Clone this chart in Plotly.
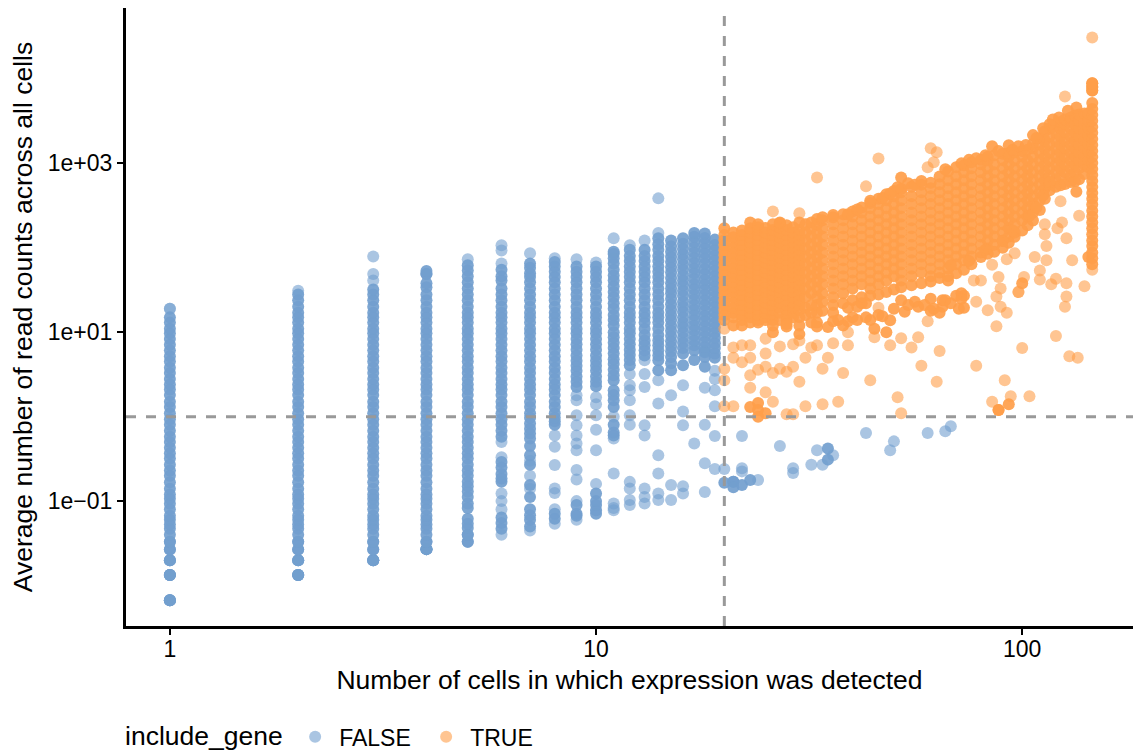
import math
import plotly.graph_objects as go

FONT = "Liberation Sans"
BLUE = "#729ECE"
ORANGE = "#FF9E4A"

# number of cells in which expression was detected (FALSE series), one list of read counts per count
false_cells = list(range(1, 20))
false_reads = [
 [.0067,.0067,.0067,.0067,.0133,.0133,.0133,.0133,.02,.02,.02,.0267,.0267,.033,.033,.04,.047,.053,.06,.067,.08,.093,.107,.12,.14,.167,.2,.23,.27,.32,.37,.43,.5,.58,.68,.8,.93,1.1,1.3,1.5,1.8,2.1,2.4,2.8,3.3,3.8,4.5,5.2,6.1,7.1,8.3,9.7,11,13,15,19,19],
 [.0133,.0133,.0133,.0133,.02,.02,.02,.0267,.0267,.033,.033,.04,.047,.053,.06,.067,.08,.093,.107,.12,.14,.167,.2,.23,.27,.32,.37,.43,.5,.58,.68,.8,.93,1.1,1.3,1.5,1.8,2.1,2.4,2.8,3.3,3.8,4.5,5.2,6.1,7.1,8.3,9.7,11,13,15,17,20,24,28,31],
 [.02,.02,.02,.02,.0267,.0267,.033,.033,.04,.047,.053,.06,.067,.08,.093,.107,.12,.14,.167,.2,.23,.27,.32,.37,.43,.5,.58,.68,.8,.93,1.1,1.3,1.5,1.8,2.1,2.4,2.8,3.3,3.8,4.5,5.2,6.1,7.1,8.3,9.7,11,13,15,17,20,24,28,32,41,49,79],
 [.027,.027,.027,.027,.033,.033,.04,.047,.053,.06,.067,.08,.093,.107,.12,.14,.167,.2,.23,.27,.32,.37,.43,.5,.58,.68,.8,.93,1.1,1.3,1.5,1.8,2.1,2.4,2.8,3.3,3.8,4.5,5.2,6.1,7.1,8.3,9.7,11,13,15,17,20,24,28,34,38,49,49,53],
 [.033,.033,.04,.04,.048,.054,.062,.083,.094,.112,.13,.15,.17,.2,.23,.27,.32,.37,.43,.5,.58,.68,.8,.93,1.1,1.3,1.5,1.8,2.1,2.4,2.8,3.3,3.8,4.5,5.2,6.1,7.1,8.3,9.7,11,13,15,17,20,24,28,33,39,46,54,62,73],
 [.04,.047,.055,.064,.08,.1,.123,.17,.185,.21,.25,.29,.33,.5,.58,.68,.8,.93,1.1,1.3,1.5,1.8,2.1,2.4,2.8,3.3,3.8,4.5,5.2,6.1,7.1,8.3,9.7,11,13,15,17,20,24,28,33,41,46,55,65,93,107],
 [.045,.05,.06,.068,.08,.112,.14,.155,.2,.27,.3,.35,.45,.55,.63,.72,.83,.97,1.1,1.3,1.5,1.8,2.1,2.4,2.8,3.3,3.8,4.5,5.2,6.1,7.1,8.3,9.7,11,13,15,17,20,24,28,33,39,45,50,58,65,86],
 [.054,.062,.071,.08,.125,.141,.267,.44,.6,.8,.88,.97,1.1,1.3,1.5,1.8,2.1,2.4,2.8,3.3,3.8,4.5,5.2,6.1,7.1,8.3,9.7,11,13,15,17,20,24,28,33,39,45,52,60,68,75],
 [.06,.067,.071,.09,.1,.18,.233,.4,.48,.6,.79,1.04,1.57,1.79,2.25,2.6,3,3.5,4,4.6,5.3,6.2,7.2,8.3,9.7,11,13,15,17,20,24,28,33,39,45,52,60,73],
 [.071,.078,.09,.1,.123,.16,.4,.7,1.04,1.4,1.7,2.3,2.6,3,3.5,4,4.6,5.3,6.2,7.2,8.3,9.7,11,13,15,17,20,24,28,33,39,45,52,60,67],
 [.078,.083,.094,.212,.55,.6,.65,.8,1,1.3,1.57,1.8,2.06,2.7,3.1,3.6,4.2,4.8,5.6,6.5,7.5,8.7,10,12,14,16,19,22,26,30,35,41,47,55,65,75,85,90,130],
 [.09,.103,.141,.169,.8,1.04,1.57,2.06,2.36,3.2,4.06,4.7,5.4,6.2,7.2,8.3,9.7,11,13,15,17,20,24,28,33,39,45,52,60,70,80,95,107],
 [.094,.112,.141,.6,.79,2.25,3.2,4.66,5.3,6.1,7,8,9.3,11,13,15,17,20,24,28,33,39,45,52,60,70,80,95,122],
 [.103,.123,.212,.35,1.43,2.7,3.55,4.66,5.3,6.1,7,8,9.3,11,13,15,17,20,24,28,33,39,45,52,60,70,80,95,110,130,150,385],
 [.103,.155,1.79,3.55,4.3,5.1,5.9,6.8,7.8,9,10.4,12,14,16,18.5,21.5,25,29,33,38,44,51,59,68,78,90,104,122],
 [.123,.15,.79,1.15,2.36,4.06,5.6,6.5,7.5,8.6,10,11.5,13,15,17.5,20,23,27,31,36,41,47,55,63,73,84,97,112,130],
 [.48,4.7,6.1,7,8,9.2,10.6,12,14,16,18.5,21,24.5,28,32.5,37,43,50,57,66,76,88,101,117,135,150],
 [.8,.28,.128,2.2,3.9,6,5.1,5.8,6.7,7.7,8.9,10.2,11.8,13.6,15.7,18,21,24,28,32,37,42,49,56,65,75,86,99,114,131,148],
 [.59,.24,1.33,2.06,2.8,3.5,5,5.6,6.5,7.4,8.6,9.9,11.4,13,15,17.3,20,23,26.5,30.5,35,40.5,46.5,53.5,61.5,71,81,94,108,125],
]
false_extra_cells = [20,20,21,21,21,22,22,22,22,23,24,27,29,29,32,33,34,35,35,36,43,49,50,60,66,68]
false_extra_reads = [.24,.165,.17,.17,.146,.59,.245,.225,.155,.178,.178,.45,.245,.215,.27,.40,.27,.42,.31,.35,.64,.40,.51,.64,.67,.77]

# TRUE series: one list of read counts per count of cells
true_cells = [20,21,22,23,24,25,26,27,28,29,30,31,32,33,34,36,38,40,42,44,46,48,50,52,55,58,61,64,67,70,73,76,80,83,86,90,93,96,100,103,106,110,113,116,120,123,126,130,133,136,140,143,146]
true_reads = [
 [11,14,16,18.4,21,24,27.6,31.6,36,41.5,47.5,54.5,62.5,71.5,82,94,108,124,142,170],
 [12,15,17,19.5,22.5,26,30,34,39,45,51,58,67,77,88,101,116,133,152],
 [12,14,16,18.4,21,24,27.6,31.6,36,41.5,47.5,54.5,62.5,71.5,82,94,108,124,142,160],
 [13,15,17,19.5,22.5,26,30,34,39,45,51,58,67,77,88,101,116,133,152,170],
 [13,14,16,18.4,21,24,27.6,31.6,36,41.5,47.5,54.5,62.5,71.5,82,94,108,124,142,163,175],
 [14,15,17,19.5,22.5,26,30,34,39,45,51,58,67,77,88,101,116,133,152,172],
 [14,16,18.4,21,24,27.6,31.6,36,41.5,47.5,54.5,62.5,71.5,82,94,108,124,142,163,190],
 [14,17,19.5,22.5,26,30,34,39,45,51,58,67,77,88,101,116,133,152,175,195],
 [14,16,18.4,21,24,27.6,31.6,36,41.5,47.5,54.5,62.5,71.5,82,94,108,124,142,163,185],
 [15,17,19.5,22.5,26,30,34,39,45,51,58,67,77,88,101,116,133,152,175],
 [15,18.4,21,24,27.6,31.6,36,41.5,47.5,54.5,62.5,71.5,82,94,108,124,142,163,200],
 [16,19.5,26,33,41,51,64,79,98,122,152,190],
 [17,21,29,37,46,57,71,88,109,136,170,200],
 [17,21,26,33,41,51,64,79,98,122,152,190,220],
 [18,23,29,37,46,57,71,88,109,136,170,212],
 [21,26,33,41,51,64,79,98,122,152,190,230],
 [22,29,37,46,57,71,88,109,136,170,212,250],
 [24,33,41,51,64,79,98,122,152,190,235,270],
 [26,37,46,57,71,88,109,136,170,212,262,300],
 [27,33,41,51,64,79,98,122,152,190,235,295,340],
 [28,37,46,57,71,88,109,136,170,212,262,330,380],
 [30,41,51,64,79,98,122,152,190,235,295,365,430],
 [32,46,57,71,88,109,136,170,212,262,330,407,470],
 [34,41,51,64,79,98,122,152,190,235,295,365,455,500],
 [36,46,57,71,88,109,136,170,212,262,330,407,530],
 [38,51,64,79,98,122,152,190,235,295,365,455,560],
 [40,46,57,71,88,109,136,170,212,262,330,407,507,590],
 [44,51,64,79,98,122,152,190,235,295,365,455,565,700],
 [46,57,71,88,109,136,170,212,262,330,407,507,630,800],
 [50,64,79,98,122,152,190,235,295,365,455,565,705,900],
 [55,71,88,109,136,170,212,262,330,407,507,630,786,950],
 [64,79,98,122,152,190,235,295,365,455,565,705,875,1030],
 [78,88,109,136,170,212,262,330,407,507,630,786,975,1100],
 [85,98,122,152,190,235,295,365,455,565,705,875,1085,1200],
 [90,109,136,170,212,262,330,407,507,630,786,975,1250],
 [100,122,152,190,235,295,365,455,565,705,875,1085,1300],
 [115,136,170,212,262,330,407,507,630,786,975,1210,1330],
 [135,152,190,235,295,365,455,565,705,875,1085,1350],
 [160,212,262,330,407,507,630,786,975,1210,1400],
 [185,235,295,365,455,565,705,875,1085,1450],
 [210,262,330,407,507,630,786,975,1210,1505,1700],
 [280,365,455,565,705,875,1085,1350,1680,2000],
 [380,507,630,786,975,1210,1505,1870,2400],
 [480,565,705,875,1085,1350,1680,2090,2600],
 [530,630,786,975,1210,1505,1870,2330,2900],
 [550,705,875,1085,1350,1680,2090,2600,3100],
 [570,786,975,1210,1505,1870,2330,2900,3300],
 [600,705,875,1085,1350,1680,2090,2600,3200,3500],
 [620,786,975,1210,1505,1870,2330,2900,3700],
 [650,875,1085,1350,1680,2090,2600,3200,3800],
 [750,975,1210,1505,1870,2330,2900,3900],
 [78,900,1085,1350,1680,2090,2600,3200,3900],
 [55,64,75,88,105,122,145,170,200,235,275,325,380,445,525,620,730,860,1010,1190,1400,1650,1950,2300,2700,3200,3750,4400,5200,7300,7300,8000,8000,8900,8900,31000],
]
true_extra_cells = [33,46,43,26,23,30,61,63,62,60,52,54,85,93,106,126,134,118,
 21,20,23,24,24,24,25,26,28,29,31,34,37,51,52,85,88,88,93,94,104,91,78,63,58,44,38,34,30,25,23,23,
 64,100,120,129,135,87,60,49,57,52,55,49,48,45,45,39,39,39,36,36,35,31,29,28,27,26,25,24,22,21,20,20,27,29,25,25,23,21,30,33,32,
 140,126,127,127,117,120,110,101,100,98,98,92,89,87,89,88,83,78,73,71,72,73,80,77,67,65,61,65,61,57,56,52,46,43,42,41,39,36,33,30,28,26,23,22,
 114,110,107,131,114,96,92,85,127,113,113,121,124,136,134,123,
 24,27,34,36,39,41,44,47,49,51,56,58,66,72,75,78,82,88,95,98,102,108,112,116,122,128,118,
 68,75,82,90,95,104,108,112,116,
 26,28,30,32,33,35,37,38,40,41,43,44,46,47,50,53,54,59,62,64,66,68,70,72]
true_extra_reads = [682,1145,534,270,200,256,1510,1350,1030,900,680,580,1600,1640,2160,6200,4600,2670,
 1.33,1.33,1.3,1.45,1.2,1.0,1.1,1.5,1.07,1.07,1.33,1.4,1.5,1.7,1.1,1.5,1.2,1.2,1.4,1.75,1.75,2.7,4.0,2.6,4.0,2.7,3.3,3.7,2.6,1.95,2.2,3.1,
 6,6.5,9,5.2,5,11.8,13.5,13.9,8.7,8.5,6.6,7,10,11,8.7,13.5,10,7,13.5,7.4,5,5,3.9,3.4,3.7,3.3,3.9,3.6,4.4,5,3.7,2.7,6.8,7.2,5.6,8.4,5,6.6,8,7,6.6,
 35,20,26.5,38,37,43,42,45,38,30,30,17,20,26.5,33,45,18.2,23,19.5,19,29,27,41,41,41,20,18,24,25,20,23,24,19.5,22,22,20,19.5,17,11.7,9.5,11.7,10,7,7,
 71,54,78,71,105,86,73,63,130,190,145,170,200,240,460,355,
 190,200,230,245,250,285,360,390,440,520,560,620,850,1000,1100,1150,1250,1400,1450,1600,1650,2000,2600,2900,3500,4200,3300,
 62,70,95,120,160,240,300,420,600,
 12,12.5,12,13,13,11.5,14,12,15,14,15,14,16,15.5,19,17.5,21,21,19,17,24,22,27,25]

x_ticks = [1, 10, 100]
x_tick_labels = ["1", "10", "100"]
y_ticks = [0.1, 10, 1000]
y_tick_labels = ["1e\u221201", "1e+01", "1e+03"]
x_threshold = 20
y_threshold = 1


def flatten(cells, reads, extra_cells, extra_reads):
    xs, ys = [], []
    for c, vals in zip(cells, reads):
        xs += [c] * len(vals)
        ys += vals
    return xs + extra_cells, ys + extra_reads


def split_crowded(xs, ys):
    """Points piled on by neighbours read as solid colour, lone points stay translucent."""
    lx = [math.log10(v) * 426 for v in xs]
    ly = [math.log10(v) * 84.5 for v in ys]
    lone, crowded = ([], []), ([], [])
    for i in range(len(xs)):
        n = sum(1 for j in range(len(xs))
                if j != i and (lx[i] - lx[j]) ** 2 + (ly[i] - ly[j]) ** 2 <= 169)
        target = crowded if n >= 3 else lone
        target[0].append(xs[i])
        target[1].append(ys[i])
    return lone, crowded


fig = go.Figure()
for name, color, (xs, ys) in [
    ("FALSE", BLUE, flatten(false_cells, false_reads, false_extra_cells, false_extra_reads)),
    ("TRUE", ORANGE, flatten(true_cells, true_reads, true_extra_cells, true_extra_reads)),
]:
    lone, crowded = split_crowded(xs, ys)
    fig.add_trace(go.Scatter(x=lone[0], y=lone[1], mode="markers", name=name, legendgroup=name,
                             marker=dict(color=color, size=12, opacity=0.6, line=dict(width=0))))
    fig.add_trace(go.Scatter(x=crowded[0], y=crowded[1], mode="markers", name=name, legendgroup=name,
                             showlegend=False,
                             marker=dict(color=color, size=12, opacity=0.92, line=dict(width=0))))

dash = dict(color="#999999", width=3, dash="10px,10px")
fig.add_shape(type="line", xref="x", yref="paper", x0=x_threshold, x1=x_threshold, y0=0, y1=1, line=dash)
fig.add_shape(type="line", xref="paper", yref="y", x0=0, x1=1, y0=y_threshold, y1=y_threshold, line=dash)

fig.add_annotation(text="include_gene", xref="paper", yref="paper", x=-0.002, y=-0.1787,
                   xanchor="left", yanchor="middle", showarrow=False, borderpad=0,
                   font=dict(size=26.5, color="black", family=FONT))

fig.update_layout(
    width=1133, height=750, autosize=False,
    margin=dict(l=126, r=0, t=8, b=123.5, autoexpand=False),
    paper_bgcolor="white", plot_bgcolor="white",
    font=dict(family=FONT, size=24, color="black"),
    showlegend=True,
    legend=dict(orientation="h", x=0.164, xanchor="left", y=-0.1445, yanchor="top",
                font=dict(size=23), itemwidth=38, entrywidth=78, entrywidthmode="pixels",
                bgcolor="rgba(0,0,0,0)"),
)
axis = dict(type="log", showgrid=False, zeroline=False, showline=True, linecolor="black",
            linewidth=3, ticks="outside", ticklen=6, tickwidth=2, tickcolor="black",
            tickfont=dict(size=23, color="black", family=FONT))
fig.update_xaxes(axis, range=[-0.103, 2.26], tickvals=x_ticks, ticktext=x_tick_labels,
                 ticklabelstandoff=-6,
                 title=dict(text="Number of cells in which expression was detected",
                            font=dict(size=26.5), standoff=10))
fig.update_yaxes(axis, range=[-2.479, 4.84], tickvals=y_ticks, ticktext=y_tick_labels,
                 title=dict(text="Average number of read counts across all cells",
                            font=dict(size=26.5), standoff=8))

fig.write_html("out.html", config={"displayModeBar": False},
               post_script="document.body.style.margin='0';")
